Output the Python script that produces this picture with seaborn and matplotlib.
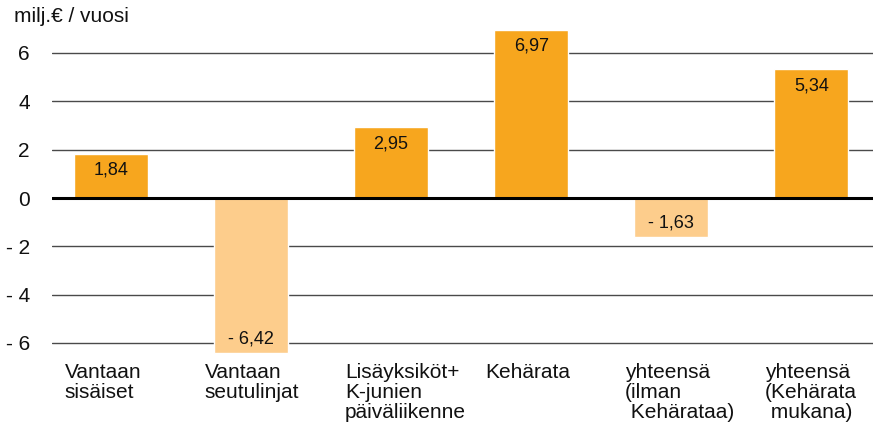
import matplotlib
matplotlib.use("Agg")
import matplotlib.pyplot as plt
import matplotlib.transforms as mtransforms
import seaborn as sns
import pandas as pd

categories = ["Vantaan\nsisäiset", "Vantaan\nseutulinjat", "Lisäyksiköt+\nK-junien\npäiväliikenne",
              "Kehärata", "yhteensä\n(ilman\n Kehärataa)", "yhteensä\n(Kehärata\n mukana)"]
values = [1.84, -6.42, 2.95, 6.97, -1.63, 5.34]
value_labels = ["1,84", "- 6,42", "2,95", "6,97", "- 1,63", "5,34"]
yticks = [-6, -4, -2, 0, 2, 4, 6]
ytick_labels = ["- 6", "- 4", "- 2", "0", "2", "4", "6"]
unit_label = "milj.€ / vuosi"

pos_color = "#F7A61E"
neg_color = "#FDCD8C"

sns.set_style("white")
plt.rcParams["font.family"] = ["Liberation Sans", "DejaVu Sans"]

fig = plt.figure(figsize=(8.73, 4.34), dpi=100)
ax = fig.add_axes([52 / 873, 1 - 357.5 / 434, 1 - 52 / 873, (357.5 - 24) / 434])

df = pd.DataFrame({"cat": categories, "val": values})
colors = [pos_color if v >= 0 else neg_color for v in values]
sns.barplot(data=df, x="cat", y="val", hue="cat", palette=colors, legend=False,
            width=0.53, ax=ax, saturation=1, zorder=3)

ax.set_ylim(-6.6, 7.2)
ax.set_xlim(-0.42, 5.44)
ax.set_yticks(yticks)
ax.set_yticklabels(ytick_labels, fontsize=15, color="#111111")
ax.tick_params(axis="y", length=0, pad=16)
ax.set_xticks([])
ax.set_xlabel("")
ax.set_ylabel("")
for s in ax.spines.values():
    s.set_visible(False)

for t in yticks:
    if t == 0:
        ax.axhline(0, color="black", lw=2.2, zorder=4)
    else:
        ax.axhline(t, color="#4a4a4a", lw=1.0, zorder=1)

for i, (v, lab) in enumerate(zip(values, value_labels)):
    if v >= 0:
        ax.annotate(lab, (i, v), xytext=(0, -6), textcoords="offset points",
                    ha="center", va="top", fontsize=13, color="#111111", zorder=5)
    else:
        ax.annotate(lab, (i, v), xytext=(0, 4), textcoords="offset points",
                    ha="center", va="bottom", fontsize=13, color="#111111", zorder=5)

trans = mtransforms.blended_transform_factory(ax.transData, fig.transFigure)
for i, c in enumerate(categories):
    ax.text(i - 0.33, 1 - 363 / 434, c, transform=trans, ha="left", va="top",
            fontsize=15, color="#111111", linespacing=1.05)

fig.text(14 / 873, 1 - 17 / 434, unit_label, ha="left", va="center", fontsize=15, color="#111111")

fig.savefig("out.png", dpi=100)
